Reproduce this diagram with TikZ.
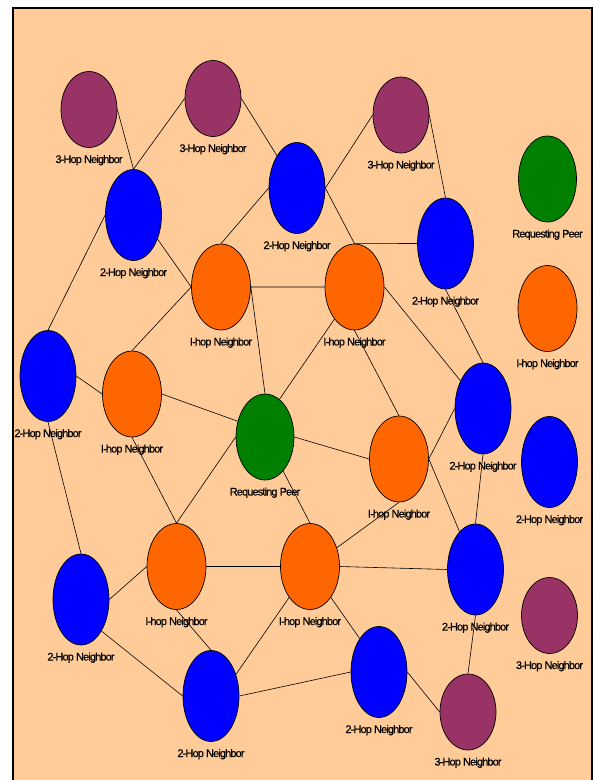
\documentclass[tikz,border=0pt]{standalone}
\usepackage{fontspec}
\newfontfamily\lblfont{Liberation Sans}[LetterSpace=-8, FakeBold=0.4]
\usetikzlibrary{shapes.geometric,positioning}
\definecolor{peach}{HTML}{FFCC99}
\definecolor{hopthree}{HTML}{993366}
\definecolor{hoptwo}{HTML}{0000FF}
\definecolor{hopone}{HTML}{FF6600}
\definecolor{peer}{HTML}{008000}
\tikzset{
  nd/.style={ellipse, draw=black, line width=0.7pt, inner sep=0pt},
  purp/.style={nd, fill=hopthree, minimum width=56pt, minimum height=76pt},
  blu/.style={nd, fill=hoptwo, minimum width=56pt, minimum height=91pt},
  ora/.style={nd, fill=hopone, minimum width=59pt, minimum height=86pt},
  grn/.style={nd, fill=peer, minimum width=58pt, minimum height=86pt},
  lbl/.style={inner sep=0pt, font=\lblfont\fontsize{11}{13}\selectfont, text=black},
  edge/.style={draw=black, line width=0.6pt}
}
\begin{document}
\begin{tikzpicture}[x=1pt,y=-1pt]
\useasboundingbox (0,0) rectangle (594,780);
\clip (0,0) rectangle (594,780);
\fill[white] (0,0) rectangle (594,780);
\draw[fill=peach, line width=1.6pt] (13,8) rectangle (592,800);

% 3-hop neighbours
\node[purp] (P1) at (89,109.5) {};
\node[purp] (P2) at (213,98.5) {};
\node[purp] (P3) at (401,115) {};
\node[purp] (P5) at (468,712) {};
\node[purp] (P4) at (549.5,615.5) {};
% 2-hop neighbours
\node[blu] (B1) at (133.5,215) {};
\node[blu] (B2) at (297,188) {};
\node[blu] (B3) at (445.5,243.5) {};
\node[blu] (B4) at (48,376) {};
\node[blu] (B5) at (483,408.5) {};
\node[blu] (B6) at (549.5,462) {};
\node[blu] (B7) at (81,599.5) {};
\node[blu] (B8) at (475.5,569.5) {};
\node[blu] (B9) at (211,696) {};
\node[blu] (B10) at (379,672) {};
% 1-hop neighbours
\node[ora] (O1) at (221,287) {};
\node[ora] (O2) at (354.5,287) {};
\node[ora] (O3) at (132,394) {};
\node[ora] (O4) at (399,459) {};
\node[ora] (O5) at (176.5,566.5) {};
\node[ora] (O6) at (310,566.5) {};
\node[ora] (O7) at (547.5,308.5) {};
% requesting peers
\node[grn] (G) at (265,437) {};
\node[grn] (G2) at (547.5,179) {};

% labels
\foreach \n in {P1,P2,P3,P4,P5}
  \node[lbl, below=7pt of \n] (\n t) {3-Hop Neighbor};
\foreach \n in {B1,B2,B3,B4,B5,B6,B7,B8,B9,B10}
  \node[lbl, below=7pt of \n] (\n t) {2-Hop Neighbor};
\foreach \n in {O1,O2,O3,O4,O5,O6,O7}
  \node[lbl, below=7pt of \n] (\n t) {I-hop Neighbor};
\foreach \n in {G,G2}
  \node[lbl, below=7pt of \n] (\n t) {Requesting Peer};

% connectors
\path[edge]
  (P1.east) -- (B1.north)
  (P2.west) -- (B1.north)
  (P2.east) -- (B2)
  (P3.west) -- (B2.east)
  (P3.east) -- (B3.north)
  (B2.west) -- (O1.north)
  (B2.east) -- (O2.north)
  (O2.north) -- (B3.west)
  (B1.-45) -- (O1.west)
  (B1.west) -- (B4.north)
  (O1.east) -- (O2.west)
  (O1.west) -- (O3.north)
  (O1.east) -- (G.north)
  (O2.-122) -- (G.69)
  (O2.south) -- (O4.north)
  (O2.east) -- (B5)
  (B3.south) -- (B5.north)
  (B4.east) -- (O3.west)
  (B4.south) -- (B7.north)
  (O3.east) -- (G.150)
  (O3.south) -- (O5.north)
  (G.west) -- (O5.north)
  (G.east) -- (O4.west)
  (G.-62) -- (O6.north)
  (O4.south) -- (O6.35)
  (O4.east) -- (B5.west)
  (O4.east) -- (B8)
  (B5.south) -- (B8.north)
  (O6.east) -- (B8.west)
  (O5.east) -- (O6.west)
  (O5.west) -- (B7.east)
  (O5.south) -- (B9.north)
  (O6.-124) -- (B9.41)
  (O6.-56) -- (B10.120)
  (B7.-57) -- (B9.west)
  (B9.east) -- (B10.west)
  (B10.east) -- (P5.west)
  (B8.south) -- (P5.north);
\end{tikzpicture}
\end{document}
